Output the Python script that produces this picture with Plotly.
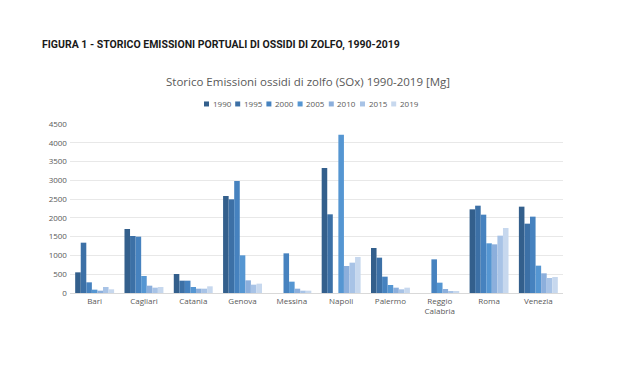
import plotly.graph_objects as go

categories = ["Bari", "Cagliari", "Catania", "Genova", "Messina", "Napoli",
              "Palermo", "Reggio<br>Calabria", "Roma", "Venezia"]
years = ["1990", "1995", "2000", "2005", "2010", "2015", "2019"]
v1990 = [550, 1704, 506, 2583, 0, 3329, 1198, 0, 2228, 2299]
v1995 = [1340, 1518, 328, 2494, 0, 2095, 941, 0, 2325, 1846]
v2000 = [284, 1500, 328, 2982, 1056, 0, 435, 896, 2086, 2033]
v2005 = [89, 453, 160, 1003, 302, 4216, 213, 275, 1323, 728]
v2010 = [62, 195, 115, 337, 115, 719, 142, 107, 1296, 524]
v2015 = [160, 142, 115, 222, 62, 808, 98, 53, 1527, 399]
v2019 = [98, 160, 178, 249, 62, 959, 142, 53, 1731, 426]
series = [v1990, v1995, v2000, v2005, v2010, v2015, v2019]
colors = ["#335F8C", "#3C70A6", "#4682BF", "#5596D2", "#8CAFDC", "#A8C3E6", "#C7D8EE"]

# page body has an 8px default margin; work in window pixel coords and shift
OFF = 8
W, H = 640 - OFF, 374 - OFF
PL, PR, PT, PB = 70, 563, 124, 292.7   # plot area in window pixel coords
L, R, T, B = PL - OFF, 640 - PR, PT - OFF, 374 - PB
PW, PH = PR - PL, PB - PT

def px(x):
    return (x - PL) / PW

def py(y):
    return (PB - y) / PH

fig = go.Figure()
for y, vals, c in zip(years, series, colors):
    fig.add_trace(go.Bar(name=y, x=categories, y=vals, marker_color=c,
                         marker_line_width=0, showlegend=False))

shapes = []
annotations = [
    dict(text="<b>FIGURA 1 - STORICO EMISSIONI PORTUALI DI OSSIDI DI ZOLFO, 1990-2019</b>",
         xref="paper", yref="paper", x=px(40), y=py(45), xanchor="left", yanchor="middle",
         showarrow=False,
         font=dict(family="Roboto", size=10.5, color="#1a1a1a")),
    dict(text="Storico Emissioni ossidi di zolfo (SOx) 1990-2019 [Mg]",
         xref="paper", yref="paper", x=px(308), y=py(82), xanchor="center", yanchor="middle",
         showarrow=False, font=dict(family="Open Sans", size=11.5, color="#595959")),
]
# custom legend
lx0, step, ly = 204, 31.2, 104
for i, (yr, c) in enumerate(zip(years, colors)):
    x0 = lx0 + i * step
    shapes.append(dict(type="rect", xref="paper", yref="paper",
                       x0=px(x0), x1=px(x0 + 5), y0=py(ly + 2.5), y1=py(ly - 2.5),
                       fillcolor=c, line_width=0))
    annotations.append(dict(text=yr, xref="paper", yref="paper", x=px(x0 + 6.5), y=py(ly),
                            xanchor="left", yanchor="middle", showarrow=False,
                            font=dict(family="Open Sans", size=8, color="#595959")))

fig.update_layout(
    width=W, height=H,
    paper_bgcolor="white", plot_bgcolor="white",
    margin=dict(l=L, r=R, t=T, b=B),
    barmode="group", bargap=0.21, bargroupgap=0,
    font=dict(family="Open Sans", color="#595959", size=8),
    showlegend=False,
    xaxis=dict(showgrid=False, showline=True, linecolor="#D9D9D9", linewidth=1,
               ticks="", tickfont=dict(size=8, color="#595959")),
    yaxis=dict(range=[0, 4500], dtick=500, showgrid=True, gridcolor="#E8E8E8",
               gridwidth=1, zeroline=False, showline=False,
               tickfont=dict(size=8, color="#595959"), ticksuffix=" "),
    shapes=shapes,
    annotations=annotations,
)

fig.write_html("out.html")
